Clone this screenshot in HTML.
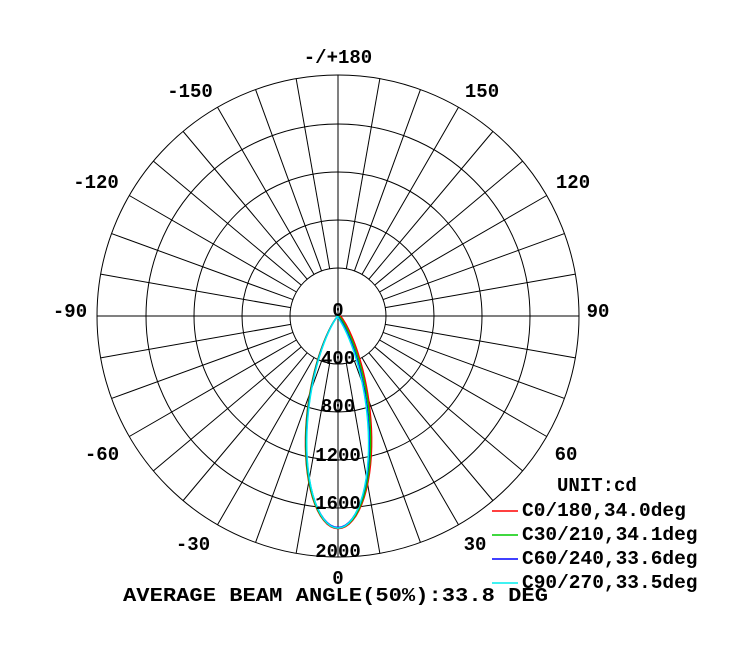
<!DOCTYPE html>
<html><head><meta charset="utf-8"><style>
body{margin:0;background:#fff;width:733px;height:663px;overflow:hidden}
text{font-family:"Liberation Mono",monospace;font-weight:bold;font-size:19px;fill:#000}
</style></head><body>
<svg id="s" width="733" height="663" xmlns="http://www.w3.org/2000/svg">
<g id="grid" stroke="#000" stroke-width="1" fill="none"></g>
<g id="curves" fill="none" stroke-width="1.5"></g>
<g id="labels"></g>
</svg>
<script>
var cx=338,cy=316,R=241,ns="http://www.w3.org/2000/svg";
function el(p,t,a,txt){var e=document.createElementNS(ns,t);for(var k in a)e.setAttribute(k,a[k]);if(txt!=null)e.textContent=txt;document.getElementById(p).appendChild(e);return e;}
[48,96,144,192,241].forEach(function(r){el("grid","circle",{cx:cx,cy:cy,r:r});});
for(var a=0;a<360;a+=10){var t=a*Math.PI/180,r0=(a%90==0)?0:48;
el("grid","line",{x1:cx+r0*Math.sin(t),y1:cy+r0*Math.cos(t),x2:cx+R*Math.sin(t),y2:cy+R*Math.cos(t)});}
var cols=["#f00","#0c0","#00f","#0ee"],ns_=[15.2,15.4,16,16.4],I0=[1765,1760,1755,1760],off=[1.5,0.5,-0.5,-1];
for(var c=0;c<4;c++){var d="";for(var k=-90;k<=90;k+=1){var t=k*Math.PI/180,th=t;var I=I0[c]*Math.pow(Math.cos(t),ns_[c]);var r=I/2000*241;var x=cx+r*Math.sin(th)+(k>0?off[c]*Math.cos(t)*Math.sin(Math.abs(t))*3:0),y=cy+r*Math.cos(th);d+=(d?"L":"M")+x.toFixed(2)+","+y.toFixed(2);}
el("curves","path",{d:d,stroke:cols[c]});}
var L=[["-/+180",338,63],["150",482,97],["-150",190,97],["120",573,188],["-120",96,188],["90",598,317],["-90",70,317],["60",566,460],["-60",102,460],["30",475,550],["-30",193,550],["0",338,584]];
L.forEach(function(l){el("labels","text",{x:l[1],y:l[2],"text-anchor":"middle"},l[0]);});
[["0",316],["400",364],["800",412],["1200",461],["1600",509],["2000",557]].forEach(function(l){el("labels","text",{x:338,y:l[1],"text-anchor":"middle"},l[0]);});
el("labels","text",{x:123,y:601,textLength:425,lengthAdjust:"spacingAndGlyphs"},"AVERAGE BEAM ANGLE(50%):33.8 DEG");
el("labels","text",{x:557,y:491,"font-size":"16"},"UNIT:cd");
var leg=["C0/180,34.0deg","C30/210,34.1deg","C60/240,33.6deg","C90/270,33.5deg"];
for(var i=0;i<4;i++){var y=511+i*24;el("labels","line",{x1:492,y1:y,x2:518,y2:y,stroke:cols[i],"stroke-width":1.5});
el("labels","text",{x:522,y:y+5,"font-size":"16",textLength:leg[i].length*11.7,lengthAdjust:"spacingAndGlyphs"},leg[i]);}
</script>
</body></html>
